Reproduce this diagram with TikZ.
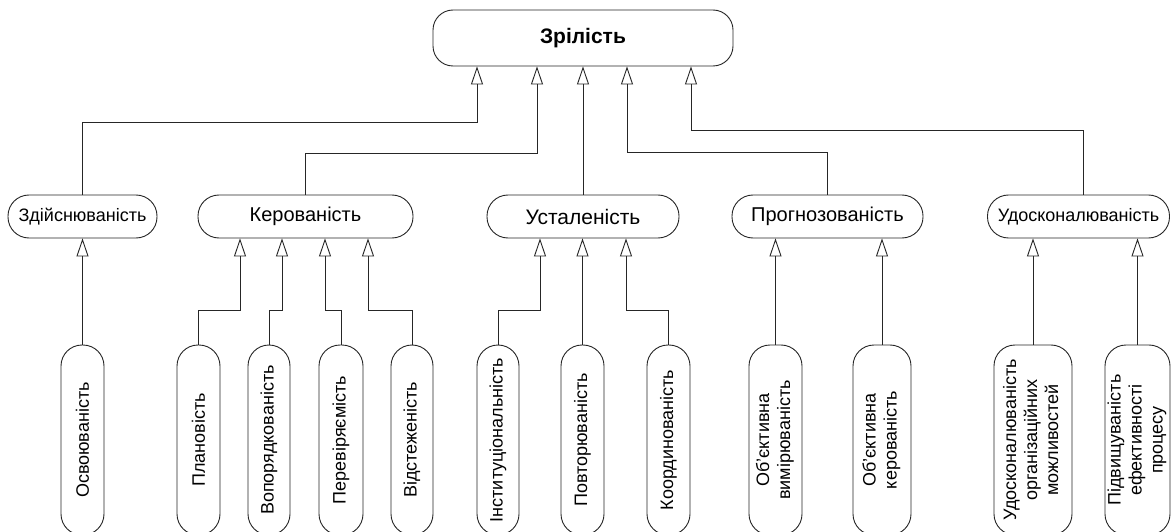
\documentclass[tikz,border=0pt]{standalone}
\usepackage{fontspec}
\setmainfont{Liberation Sans}
\usetikzlibrary{arrows.meta}
\begin{document}
\begin{tikzpicture}[x=1pt,y=-1pt,
  box/.style={draw=black!85, line width=0.9pt, rounded corners=21pt, inner sep=0pt, align=center},
  topbox/.style={box, rounded corners=20pt, minimum width=300pt, minimum height=56pt, font=\fontsize{21}{25}\selectfont\bfseries},
  midbox/.style={box, minimum height=43pt, minimum width=#1, font=\fontsize{18}{21}\selectfont},
  medmid/.style={midbox=#1, font=\fontsize{20}{24}\selectfont},
  bigmid/.style={midbox=#1, font=\fontsize{21}{25}\selectfont},
  lowbox/.style={box, minimum height=190pt, minimum width=#1, font=\fontsize{18}{21}\selectfont},
  conn/.style={draw=black!85, line width=0.9pt, -{Triangle[open, length=18pt, width=12pt]}}
]
\useasboundingbox (0,0) rectangle (1171,532);
\fill[white] (0,0) rectangle (1171,532);

% top
\node[topbox] (top) at (583,38) {Зрілість};

% middle row
\node[midbox=149pt] (zd) at (82.5,216.5) {Здійснюваність};
\node[medmid=215pt] (ker) at (305.5,216.5) {Керованість};
\node[bigmid=192pt] (ust) at (583,216.5) {Усталеність};
\node[medmid=191pt] (prog) at (827.5,216.5) {Прогнозованість};
\node[midbox=182pt] (udos) at (1078.5,216.5) {Удосконалюваність};

% bottom row
\node[lowbox=43pt] (osv) at (82.5,440) {\rotatebox{90}{Освоюваність}};
\node[lowbox=43pt] (plan) at (198.5,440) {\rotatebox{90}{Плановість}};
\node[lowbox=42pt] (vop) at (269,440) {\rotatebox{90}{Вопорядкованість}};
\node[lowbox=44pt] (per) at (341,440) {\rotatebox{90}{Перевіряємість}};
\node[lowbox=42pt] (vid) at (412,440) {\rotatebox{90}{Відстеженість}};
\node[lowbox=42pt] (inst) at (498,440) {\rotatebox{90}{Інституціональність}};
\node[lowbox=43pt] (pov) at (582.5,440) {\rotatebox{90}{Повторюваність}};
\node[lowbox=43pt] (koord) at (668.5,440) {\rotatebox{90}{Координованість}};
\node[lowbox=53pt] (ob1) at (775.5,440) {\rotatebox{90}{\begin{tabular}{@{}c@{}}Об’єктивна\\вимірюваність\end{tabular}}};
\node[lowbox=58pt] (ob2) at (882,440) {\rotatebox{90}{\begin{tabular}{@{}c@{}}Об’єктивна\\керованість\end{tabular}}};
\node[lowbox=78pt] (ud) at (1033,440) {\rotatebox{90}{\begin{tabular}{@{}c@{}}Удосконалюваність\\організаційних\\можливостей\end{tabular}}};
\node[lowbox=65pt] (pid) at (1137.5,440) {\rotatebox{90}{\begin{tabular}{@{}c@{}}Підвищуваність\\ефективності\\процесу\end{tabular}}};

% elbow levels
\coordinate (lz) at (0,122);
\coordinate (lk) at (0,153);
\coordinate (lp) at (0,152);
\coordinate (lu) at (0,130);
\coordinate (lb) at (0,310);

% middle -> top
\draw[conn] (zd.north) -- (zd.north |- lz) -| ([xshift=-106pt]top.south);
\draw[conn] (ker.north) -- (ker.north |- lk) -| ([xshift=-46pt]top.south);
\draw[conn] (ust.north) -- (top.south);
\draw[conn] (prog.north) -- (prog.north |- lp) -| ([xshift=44pt]top.south);
\draw[conn] ([xshift=4.5pt]udos.north) -- ([xshift=4.5pt]udos.north |- lu) -| ([xshift=108pt]top.south);

% bottom -> middle
\draw[conn] (osv.north) -- (osv.north |- zd.south);
\draw[conn] (plan.north) -- (plan.north |- lb) -| ([xshift=-65.5pt]ker.south);
\draw[conn] (vop.north) -- (vop.north |- lb) -| ([xshift=-23.5pt]ker.south);
\draw[conn] (per.north) -- (per.north |- lb) -| ([xshift=19.5pt]ker.south);
\draw[conn] (vid.north) -- (vid.north |- lb) -| ([xshift=62.5pt]ker.south);
\draw[conn] (inst.north) -- (inst.north |- lb) -| ([xshift=-43pt]ust.south);
\draw[conn] (pov.north) -- (pov.north |- ust.south);
\draw[conn] (koord.north) -- (koord.north |- lb) -| ([xshift=43pt]ust.south);
\draw[conn] (ob1.north) -- (ob1.north |- prog.south);
\draw[conn] (ob2.north) -- (ob2.north |- prog.south);
\draw[conn] (ud.north) -- (ud.north |- udos.south);
\draw[conn] (pid.north) -- (pid.north |- udos.south);
\end{tikzpicture}
\end{document}
